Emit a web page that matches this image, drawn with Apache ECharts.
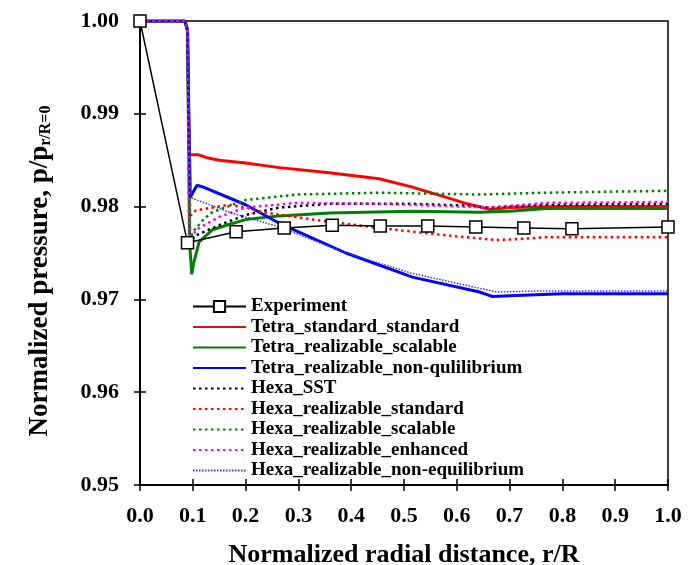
<!DOCTYPE html>
<html>
<head>
<meta charset="utf-8">
<script src="https://cdn.jsdelivr.net/npm/echarts@6/dist/echarts.min.js"></script>
<style>
  html, body { margin: 0; padding: 0; background: #fff; }
  #chart { width: 689px; height: 565px; }
</style>
</head>
<body>
<div id="chart"></div>
<script>
// experiment points
const expX = [0, 0.09, 0.182, 0.273, 0.364, 0.455, 0.545, 0.636, 0.727, 0.818, 1.0];
const expY = [1.0, 0.9761, 0.9773, 0.9777, 0.978, 0.9779, 0.9779, 0.9778, 0.9777, 0.9776, 0.9778];

// CFD curves, [r/R, p/p0]
const tetraStdStd = [[0, 1], [0.085, 1], [0.09, 0.999], [0.093, 0.9856], [0.1, 0.9856], [0.11, 0.9856], [0.125, 0.9853], [0.15, 0.985], [0.2, 0.9847], [0.264, 0.9842], [0.35, 0.9837], [0.453, 0.983], [0.516, 0.9821], [0.58, 0.981], [0.62, 0.9803], [0.662, 0.9797], [0.7, 0.9799], [0.8, 0.98], [0.9, 0.98], [1.0, 0.98]];
const tetraRealScal = [[0, 1], [0.085, 1], [0.09, 0.999], [0.094, 0.976], [0.098, 0.9727], [0.102, 0.974], [0.112, 0.9762], [0.137, 0.9775], [0.17, 0.9781], [0.2, 0.9786], [0.264, 0.979], [0.36, 0.9793], [0.516, 0.9795], [0.643, 0.9794], [0.7, 0.9795], [0.77, 0.9798], [0.9, 0.9798], [1.0, 0.9798]];
const tetraRealNoneq = [[0, 1], [0.085, 1], [0.09, 0.999], [0.095, 0.981], [0.1, 0.9815], [0.108, 0.9823], [0.12, 0.9821], [0.2, 0.9802], [0.264, 0.9782], [0.39, 0.975], [0.516, 0.9724], [0.643, 0.9708], [0.668, 0.9703], [0.7, 0.9704], [0.8, 0.9706], [1.0, 0.9706]];
const hexaSST = [[0, 1], [0.085, 1], [0.09, 0.999], [0.094, 0.977], [0.1, 0.9765], [0.106, 0.9769], [0.15, 0.978], [0.2, 0.9791], [0.264, 0.9799], [0.359, 0.9803], [0.516, 0.9803], [0.62, 0.9801], [0.662, 0.9799], [0.77, 0.9802], [1.0, 0.9803]];
const hexaRealStd = [[0, 1], [0.085, 1], [0.09, 0.999], [0.095, 0.979], [0.106, 0.9796], [0.169, 0.9802], [0.2, 0.9799], [0.232, 0.9794], [0.327, 0.9786], [0.453, 0.9777], [0.58, 0.9769], [0.675, 0.9764], [0.72, 0.9765], [0.77, 0.9767], [1.0, 0.9767]];
const hexaRealScal = [[0, 1], [0.085, 1], [0.09, 0.999], [0.095, 0.976], [0.099, 0.9772], [0.12, 0.9786], [0.137, 0.9794], [0.2, 0.9807], [0.296, 0.9813], [0.453, 0.9815], [0.643, 0.9813], [0.77, 0.9815], [1.0, 0.9817]];
const hexaRealEnh = [[0, 1], [0.085, 1], [0.09, 0.999], [0.093, 0.9762], [0.1, 0.9768], [0.106, 0.9775], [0.15, 0.9789], [0.2, 0.9799], [0.296, 0.9804], [0.453, 0.9803], [0.662, 0.9799], [0.77, 0.9804], [1.0, 0.9805]];
const hexaRealNoneq = [[0, 1], [0.085, 1], [0.09, 0.999], [0.097, 0.9812], [0.099, 0.9809], [0.169, 0.9794], [0.264, 0.9778], [0.39, 0.975], [0.516, 0.9728], [0.643, 0.9712], [0.675, 0.9708], [0.75, 0.9709], [1.0, 0.9709]];

const seriesNames = [
  "Experiment",
  "Tetra_standard_standard",
  "Tetra_realizable_scalable",
  "Tetra_realizable_non-qulilibrium",
  "Hexa_SST",
  "Hexa_realizable_standard",
  "Hexa_realizable_scalable",
  "Hexa_realizable_enhanced",
  "Hexa_realizable_non-equilibrium"
];

const font = "'Liberation Serif', 'Times New Roman', serif";

function curve(name, data, color, type, width) {
  return {
    name: name,
    type: "line",
    data: data,
    showSymbol: false,
    symbol: "none",
    lineStyle: { color: color, width: width, type: type },
    itemStyle: { color: color },
    z: 2
  };
}

const chart = echarts.init(document.getElementById("chart"));

const baseAxis = {
  axisLine: { show: true, onZero: false, lineStyle: { color: "#000", width: 2 } },
  splitLine: { show: false }
};

const option = {
  animation: false,
  grid: {
    left: 140, right: 21, top: 21, bottom: 80,
    outerBoundsMode: "none",
    show: true, borderColor: "#000", borderWidth: 1.5
  },
  legend: {
    orient: "vertical",
    left: 187,
    top: 292,
    itemWidth: 53,
    itemHeight: 14,
    itemGap: 1.5,
    // hide the symbol on the model curves, keep the square for the experiment
    data: seriesNames.map((n, i) => i === 0 ? { name: n } : { name: n, itemStyle: { opacity: 0 } }),
    textStyle: { fontFamily: font, fontWeight: "bold", fontSize: 19, lineHeight: 19, color: "#000" }
  },
  xAxis: [
    Object.assign({}, baseAxis, {
      type: "value", min: 0, max: 1, interval: 0.1,
      axisTick: { show: true, length: 6, lineStyle: { color: "#000", width: 1.5 } },
      axisLabel: {
        margin: 20, fontFamily: font, fontWeight: "bold", fontSize: 22, color: "#000",
        formatter: v => v.toFixed(1)
      },
      name: "Normalized radial distance, r/R",
      nameLocation: "middle",
      nameGap: 57,
      nameTextStyle: { fontFamily: font, fontWeight: "bold", fontSize: 26, color: "#000" }
    }),
    Object.assign({}, baseAxis, {
      type: "value", min: 0, max: 1, interval: 0.1, position: "bottom",
      axisTick: { show: true, inside: true, length: 6, lineStyle: { color: "#000", width: 1.5 } },
      axisLabel: { show: false }
    })
  ],
  yAxis: [
    Object.assign({}, baseAxis, {
      type: "value", min: 0.95, max: 1.0, interval: 0.01,
      axisTick: { show: true, length: 6, lineStyle: { color: "#000", width: 1.5 } },
      axisLabel: {
        margin: 21, fontFamily: font, fontWeight: "bold", fontSize: 22, color: "#000",
        formatter: v => v.toFixed(2)
      },
      name: "{a|Normalized pressure, p/p}{b|r/R=0}",
      nameLocation: "middle",
      nameGap: 85,
      nameTextStyle: {
        padding: [0, 36, 0, 0],
        rich: {
          a: { fontFamily: font, fontWeight: "bold", fontSize: 27, color: "#000", lineHeight: 30 },
          b: { fontFamily: font, fontWeight: "bold", fontSize: 16, color: "#000", lineHeight: 30, padding: [12, 0, 0, 0] }
        }
      }
    }),
    Object.assign({}, baseAxis, {
      type: "value", min: 0.95, max: 1.0, interval: 0.01, position: "left",
      axisTick: { show: true, inside: true, length: 6, lineStyle: { color: "#000", width: 1.5 } },
      axisLabel: { show: false }
    })
  ],
  series: [
    {
      name: seriesNames[0],
      type: "line",
      data: expX.map((x, i) => [x, expY[i]]),
      symbol: "rect",
      symbolSize: 12,
      lineStyle: { color: "#000", width: 1.5 },
      itemStyle: { color: "#fff", borderColor: "#000", borderWidth: 1.5 },
      z: 5
    },
    curve(seriesNames[1], tetraStdStd, "#ff0000", "solid", 3),
    curve(seriesNames[2], tetraRealScal, "#008000", "solid", 3),
    curve(seriesNames[3], tetraRealNoneq, "#0000ff", "solid", 3),
    curve(seriesNames[4], hexaSST, "#000000", [2.5, 3.5], 2.5),
    curve(seriesNames[5], hexaRealStd, "#ff0000", [2.5, 3.5], 2.5),
    curve(seriesNames[6], hexaRealScal, "#008000", [2.5, 3.5], 2.5),
    curve(seriesNames[7], hexaRealEnh, "#ff00ff", [2.5, 3.5], 2.5),
    curve(seriesNames[8], hexaRealNoneq, "#3333ff", [1.5, 1.5], 1.5)
  ]
};

chart.setOption(option);
</script>
</body>
</html>
